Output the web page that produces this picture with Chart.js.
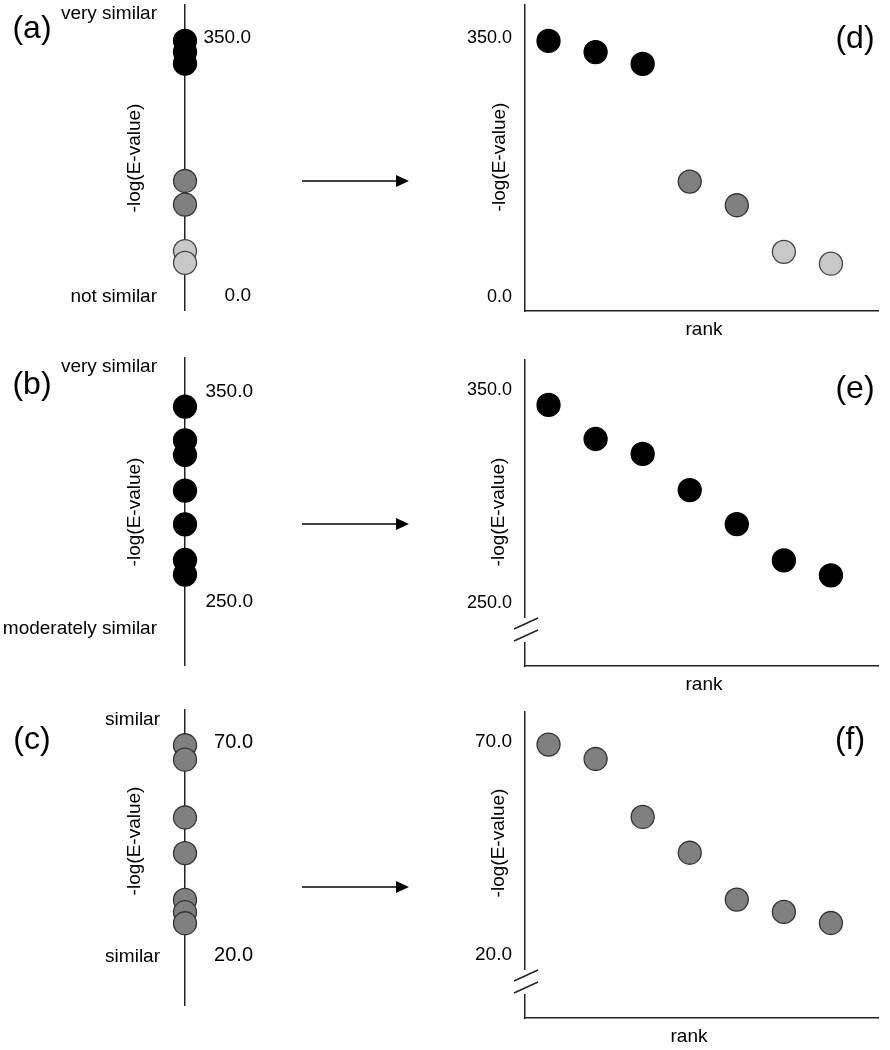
<!DOCTYPE html>
<html>
<head>
<meta charset="utf-8">
<script src="https://cdn.jsdelivr.net/npm/chart.js@4.4.1/dist/chart.umd.min.js"></script>
<style>
  html, body { margin: 0; padding: 0; background: #fff; }
  #wrap { position: relative; width: 890px; height: 1050px; overflow: hidden; background: #fff;
          font-family: "Liberation Sans", Arial, sans-serif; color: #000; }
  canvas { position: absolute; }
  .t { position: absolute; white-space: nowrap; line-height: 1; }
  .c { transform: translate(-50%, -50%); }
  .r { transform: translate(-100%, -50%); }
  .rot { transform: translate(-50%, -50%) rotate(-90deg); }
  .lab { font-size: 19px; }
  .pan { font-size: 32px; }
  svg { position: absolute; left: 0; top: 0; }
</style>
</head>
<body>
<div id="wrap">
  <canvas id="ca" width="300" height="340" style="left:0;top:0"></canvas>
  <canvas id="cb" width="300" height="340" style="left:0;top:340px"></canvas>
  <canvas id="cc" width="300" height="360" style="left:0;top:690px"></canvas>
  <canvas id="cd" width="450" height="340" style="left:440px;top:0"></canvas>
  <canvas id="ce" width="450" height="340" style="left:440px;top:340px"></canvas>
  <canvas id="cf" width="450" height="360" style="left:440px;top:690px"></canvas>

  <svg width="890" height="1050">
    <g stroke="#000" stroke-width="1.6" fill="#000">
      <line x1="302" y1="181" x2="398" y2="181"/><polygon points="396,175 409,181 396,187" stroke="none"/>
      <line x1="302" y1="524" x2="398" y2="524"/><polygon points="396,518 409,524 396,530" stroke="none"/>
      <line x1="302" y1="887" x2="398" y2="887"/><polygon points="396,881 409,887 396,893" stroke="none"/>
    </g>
  </svg>

  <!-- panel (a) -->
  <div class="t c pan" style="left:32px;top:27px">(a)</div>
  <div class="t r lab" style="left:157px;top:12px">very similar</div>
  <div class="t r lab" style="left:157px;top:295px">not similar</div>
  <div class="t rot lab" style="left:133px;top:158px">-log(E-value)</div>
  <!-- panel (b) -->
  <div class="t c pan" style="left:32px;top:383px">(b)</div>
  <div class="t r lab" style="left:157px;top:365px">very similar</div>
  <div class="t r lab" style="left:157px;top:627px">moderately similar</div>
  <div class="t rot lab" style="left:133px;top:512px">-log(E-value)</div>
  <!-- panel (c) -->
  <div class="t c pan" style="left:32px;top:738px">(c)</div>
  <div class="t r lab" style="left:160px;top:718px">similar</div>
  <div class="t r lab" style="left:160px;top:955px">similar</div>
  <div class="t rot lab" style="left:133px;top:841px">-log(E-value)</div>
  <!-- panel (d) -->
  <div class="t c pan" style="left:855px;top:37px">(d)</div>
  <div class="t rot lab" style="left:498px;top:157px">-log(E-value)</div>
  <div class="t c lab" style="left:704px;top:328px">rank</div>
  <!-- panel (e) -->
  <div class="t c pan" style="left:855px;top:387px">(e)</div>
  <div class="t rot lab" style="left:497px;top:512px">-log(E-value)</div>
  <div class="t c lab" style="left:704px;top:683px">rank</div>
  <!-- panel (f) -->
  <div class="t c pan" style="left:850px;top:738px">(f)</div>
  <div class="t rot lab" style="left:497px;top:843px">-log(E-value)</div>
  <div class="t c lab" style="left:689px;top:1035px">rank</div>
</div>

<script>
// ---------------- DATA ----------------
const ranks = [1, 2, 3, 4, 5, 6, 7];

// example 1: panels (a) and (d)
const scores1 = [346, 331, 315, 156, 124, 61, 45];
const classes1 = ['very', 'very', 'very', 'moderate', 'moderate', 'weak', 'weak'];
const ticks1 = [0, 350];

// example 2: panels (b) and (e)
const scores2 = [343, 327, 320, 303, 287, 270, 263];
const classes2 = ['very', 'very', 'very', 'very', 'very', 'very', 'very'];
const ticks2 = [250, 350];

// example 3: panels (c) and (f)
const scores3 = [69.4, 66, 52.4, 44, 33, 30.1, 27.5];
const classes3 = ['moderate', 'moderate', 'moderate', 'moderate', 'moderate', 'moderate', 'moderate'];
const ticks3 = [20, 70];

// ---------------- STYLE ----------------
const FILL = { very: '#000000', moderate: '#808080', weak: '#c8c8c8' };
const EDGE = { very: '#000000', moderate: '#333333', weak: '#444444' };
const FONT = '"Liberation Sans", Arial, sans-serif';

const axisBreak = {
  id: 'axisBreak',
  afterDraw(chart) {
    const opt = chart.options.plugins.axisBreak;
    if (!opt || !opt.show) return;
    const { left, bottom } = chart.chartArea;
    const ctx = chart.ctx;
    ctx.save();
    ctx.fillStyle = '#fff';
    ctx.fillRect(left - 3, bottom - 48, 6, 24);
    ctx.strokeStyle = '#222';
    ctx.lineWidth = 1.4;
    ctx.beginPath();
    ctx.moveTo(left - 11, bottom - 37); ctx.lineTo(left + 13, bottom - 48);
    ctx.moveTo(left - 11, bottom - 25); ctx.lineTo(left + 13, bottom - 36);
    ctx.stroke();
    ctx.restore();
  }
};

function pointStyleArrays(classes) {
  return {
    backgroundColor: classes.map(c => FILL[c]),
    borderColor: classes.map(c => EDGE[c])
  };
}

// vertical "number line" panels (a),(b),(c)
function lineChart(id, scores, classes, tickVals, ymin, ymax, padTop, padBottom, fontSize, labelRight) {
  const st = pointStyleArrays(classes);
  const lineX = 185;
  return new Chart(document.getElementById(id), {
    type: 'scatter',
    data: {
      datasets: [{
        data: scores.map(v => ({ x: 1, y: v })),
        backgroundColor: st.backgroundColor,
        borderColor: st.borderColor,
        borderWidth: 1.3,
        pointRadius: 11.5,
        clip: false
      }]
    },
    options: {
      responsive: false, animation: false, events: [],
      layout: { autoPadding: false, padding: { top: padTop, bottom: padBottom, left: 0, right: 300 - labelRight } },
      plugins: { legend: { display: false }, tooltip: { enabled: false } },
      scales: {
        x: { display: false, min: 0, max: 1 },
        y: {
          position: 'right', min: ymin, max: ymax,
          grid: { display: false, drawTicks: false },
          border: { display: true, color: '#222', width: 1.5 },
          afterFit(s) { s.width = labelRight - lineX; s.paddingTop = 0; s.paddingBottom = 0; },
          afterBuildTicks(s) { s.ticks = tickVals.map(v => ({ value: v })); },
          ticks: {
            padding: 20, crossAlign: 'far', color: '#000',
            font: { family: FONT, size: fontSize },
            callback: v => Number(v).toFixed(1)
          }
        }
      }
    }
  });
}

// ranked panels (d),(e),(f)
function rankChart(id, scores, classes, tickVals, ymin, ymax, padTop, padBottom, fontSize, brk) {
  const st = pointStyleArrays(classes);
  return new Chart(document.getElementById(id), {
    type: 'scatter',
    data: {
      datasets: [{
        data: ranks.map((r, i) => ({ x: r, y: scores[i] })),
        backgroundColor: st.backgroundColor,
        borderColor: st.borderColor,
        borderWidth: 1.3,
        pointRadius: 11.5,
        clip: false
      }]
    },
    options: {
      responsive: false, animation: false, events: [],
      layout: { autoPadding: false, padding: { top: padTop, bottom: padBottom, left: 0, right: 12 } },
      plugins: { legend: { display: false }, tooltip: { enabled: false }, axisBreak: { show: brk } },
      scales: {
        x: {
          min: 0.5, max: 8,
          grid: { display: false, drawTicks: false },
          border: { display: true, color: '#222', width: 1.5 },
          ticks: { display: false },
          afterFit(s) { s.height = 0; s.paddingLeft = 0; s.paddingRight = 0; }
        },
        y: {
          position: 'left', min: ymin, max: ymax,
          grid: { display: false, drawTicks: false },
          border: { display: true, color: '#222', width: 1.5 },
          afterFit(s) { s.width = 85; s.paddingTop = 0; s.paddingBottom = 0; },
          afterBuildTicks(s) { s.ticks = tickVals.map(v => ({ value: v })); },
          ticks: {
            padding: 13, color: '#000',
            font: { family: FONT, size: fontSize },
            callback: v => Number(v).toFixed(1)
          }
        }
      }
    },
    plugins: [axisBreak]
  });
}

lineChart('ca', scores1, classes1, ticks1, -18.9, 394.6, 5, 30, 19, 251);
lineChart('cb', scores2, classes2, ticks2, 220, 366.2, 18, 15, 19, 253);
lineChart('cc', scores3, classes3, ticks3, 8.26, 77.7, 20, 45, 20, 253);

rankChart('cd', scores1, classes1, ticks1, -18.9, 394.6, 5, 29, 18, false);
rankChart('ce', scores2, classes2, ticks2, 220.4, 364.1, 20, 14, 18, true);
rankChart('cf', scores3, classes3, ticks3, 5.2, 77.04, 22, 32, 19, true);
</script>
</body>
</html>
